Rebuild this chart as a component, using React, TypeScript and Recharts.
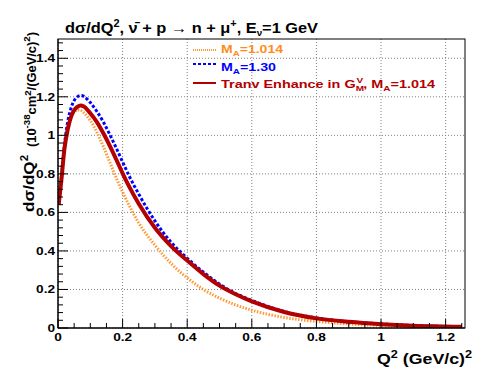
import React from "react";
import { LineChart, Line, XAxis, YAxis, CartesianGrid } from "recharts";

// Q^2 in (GeV/c)^2
const q2 = [0.002, 0.01, 0.02, 0.03, 0.04, 0.05, 0.06, 0.07, 0.08, 0.1, 0.12, 0.14, 0.16, 0.18, 0.2, 0.22, 0.25, 0.3, 0.35, 0.4, 0.45, 0.5, 0.55, 0.6, 0.7, 0.8, 0.9, 1.0, 1.1, 1.2, 1.25];

// dsigma/dQ^2 in 10^-38 cm^2/(GeV/c)^2
const ma1014 = [0.64, 0.77, 0.94, 1.04, 1.095, 1.12, 1.132, 1.13, 1.117, 1.077, 1.017, 0.943, 0.862, 0.78, 0.705, 0.637, 0.545, 0.43, 0.335, 0.26, 0.2, 0.155, 0.12, 0.092, 0.055, 0.034, 0.021, 0.013, 0.008, 0.005, 0.004];
const ma130 = [0.64, 0.77, 0.95, 1.07, 1.14, 1.18, 1.2, 1.207, 1.202, 1.17, 1.125, 1.07, 1.005, 0.935, 0.862, 0.79, 0.695, 0.556, 0.445, 0.362, 0.29, 0.228, 0.179, 0.143, 0.086, 0.052, 0.033, 0.021, 0.013, 0.008, 0.006];
const tranv = [0.64, 0.76, 0.93, 1.03, 1.095, 1.13, 1.148, 1.155, 1.15, 1.115, 1.07, 1.012, 0.947, 0.876, 0.803, 0.735, 0.645, 0.52, 0.425, 0.35, 0.28, 0.22, 0.175, 0.138, 0.083, 0.05, 0.032, 0.02, 0.012, 0.008, 0.006];

const xTicks = [0, 0.05, 0.1, 0.15, 0.2, 0.25, 0.3, 0.35, 0.4, 0.45, 0.5, 0.55, 0.6, 0.65, 0.7, 0.75, 0.8, 0.85, 0.9, 0.95, 1.0, 1.05, 1.1, 1.15, 1.2, 1.25];
const yTicks = [0, 0.04, 0.08, 0.12, 0.16, 0.2, 0.24, 0.28, 0.32, 0.36, 0.4, 0.44, 0.48, 0.52, 0.56, 0.6, 0.64, 0.68, 0.72, 0.76, 0.8, 0.84, 0.88, 0.92, 0.96, 1.0, 1.04, 1.08, 1.12, 1.16, 1.2, 1.24, 1.28, 1.32, 1.36, 1.4, 1.44, 1.48];
const xMajor = [0, 0.2, 0.4, 0.6, 0.8, 1.0, 1.2];
const yMajor = [0, 0.2, 0.4, 0.6, 0.8, 1.0, 1.2, 1.4];

const data = q2.map((q, i) => ({ q, a: ma1014[i], b: ma130[i], c: tranv[i] }));

const W = 485;
const H = 388;
const M = { top: 39, right: 20, left: 58, bottom: 60 };
const FONT = "'Liberation Sans', Arial, Helvetica, sans-serif";
const ORANGE = "#ff9933";
const BLUE = "#0000ff";
const RED = "#b30000";

const isMajor = (v: number) => Math.abs(v * 5 - Math.round(v * 5)) < 1e-6;
const fmt = (v: number) => String(Math.round(v * 10) / 10);

function XTick(props: any) {
  const { x, y, payload } = props;
  const major = isMajor(payload.value);
  return (
    <g>
      <line x1={x} x2={x} y1={y} y2={y - (major ? 9 : 5)} stroke="#000" />
      {major && (
        <text transform={`translate(${x},${y + 13}) scale(1.3,1)`} textAnchor="middle"
          fontSize={10.5} fontWeight="bold" fontFamily={FONT} fill="#000">
          {fmt(payload.value)}
        </text>
      )}
    </g>
  );
}

function YTick(props: any) {
  const { x, y, payload } = props;
  const major = isMajor(payload.value);
  return (
    <g>
      <line x1={x} x2={x + (major ? 10 : 5)} y1={y} y2={y} stroke="#000" />
      {major && (
        <text transform={`translate(${x - 3},${y + 4}) scale(1.3,1)`} textAnchor="end"
          fontSize={10.5} fontWeight="bold" fontFamily={FONT} fill="#000">
          {fmt(payload.value)}
        </text>
      )}
    </g>
  );
}

export default function App() {
  const txt = { fontFamily: FONT, fontWeight: "bold" as const, lengthAdjust: "spacingAndGlyphs" };
  return (
    <div style={{ position: "absolute", left: 0, top: 0, width: W, height: H, background: "#fff" }}>
      <LineChart width={W} height={H} data={data}
        margin={{ top: M.top, right: M.right, left: 0, bottom: 0 }}>
        <CartesianGrid horizontalValues={yMajor} verticalValues={xMajor}
          stroke="#808080" strokeDasharray="1 2" />
        <XAxis dataKey="q" type="number" domain={[0, 1.26]} ticks={xTicks}
          allowDataOverflow height={M.bottom} tickSize={0} tickMargin={0}
          axisLine={{ stroke: "#000" }} tickLine={false} tick={<XTick />} interval={0} />
        <YAxis type="number" domain={[0, 1.5]} ticks={yTicks} allowDataOverflow
          width={M.left} tickSize={0} tickMargin={0}
          axisLine={{ stroke: "#000" }} tickLine={false} tick={<YTick />} interval={0} />
        <Line dataKey="a" type="monotone" stroke={ORANGE} strokeWidth={3}
          strokeDasharray="1.5 1.5" dot={false} isAnimationActive={false} />
        <Line dataKey="b" type="monotone" stroke={BLUE} strokeWidth={3}
          strokeDasharray="3 2" dot={false} isAnimationActive={false} />
        <Line dataKey="c" type="monotone" stroke={RED} strokeWidth={4}
          dot={false} isAnimationActive={false} />
      </LineChart>
      <svg width={W} height={H} style={{ position: "absolute", left: 0, top: 0, pointerEvents: "none" }}>
        <rect x={M.left} y={M.top} width={W - M.left - M.right} height={H - M.top - M.bottom}
          fill="none" stroke="#000" />
        {/* title */}
        <text x={65} y={33} fontSize={15} textLength={253} {...txt} fill="#000">
          dσ/dQ<tspan dy={-6} fontSize={10}>2</tspan>
          <tspan dy={6}>, ν̄ + p → n + μ</tspan>
          <tspan dy={-6} fontSize={10}>+</tspan>
          <tspan dy={6}>, E</tspan>
          <tspan dy={3} fontSize={9}>ν</tspan>
          <tspan dy={-3}>=1 GeV</tspan>
        </text>
        {/* x title */}
        <text x={377} y={364} fontSize={14} textLength={95} {...txt} fill="#000">
          Q<tspan dy={-6} fontSize={10}>2</tspan>
          <tspan dy={6}> (GeV/c)</tspan>
          <tspan dy={-6} fontSize={10}>2</tspan>
        </text>
        {/* y title */}
        <text transform="translate(34,212) rotate(-90)" fontSize={15} textLength={57} {...txt} fill="#000">
          dσ/dQ<tspan dy={-6} fontSize={10}>2</tspan>
        </text>
        <text transform="translate(36,147) rotate(-90)" fontSize={12} textLength={115} {...txt} fill="#000">
          (10<tspan dy={-6} fontSize={9}>-38</tspan>
          <tspan dy={6}>cm</tspan>
          <tspan dy={-5} fontSize={9}>2</tspan>
          <tspan dy={5}>/(GeV/c)</tspan>
          <tspan dy={-6} fontSize={9}>2</tspan>
          <tspan dy={6}>)</tspan>
        </text>
        {/* legend */}
        <line x1={193} x2={216} y1={50} y2={50} stroke={ORANGE} strokeWidth={2} strokeDasharray="1 1" />
        <text x={221} y={53} fontSize={11.5} textLength={62} {...txt} fill="#ff8c1a">
          M<tspan dy={3} fontSize={8}>A</tspan>
          <tspan dy={-3}>=1.014</tspan>
        </text>
        <line x1={193} x2={216} y1={64} y2={64} stroke={BLUE} strokeWidth={2} strokeDasharray="3 2" />
        <text x={221} y={71} fontSize={11.5} textLength={55} {...txt} fill={BLUE}>
          M<tspan dy={3} fontSize={8}>A</tspan>
          <tspan dy={-3}>=1.30</tspan>
        </text>
        <line x1={193} x2={216} y1={83} y2={83} stroke={RED} strokeWidth={2} />
        <text x={221} y={88} fontSize={11.5} textLength={214} {...txt} fill={RED}>
          Tranv Enhance in G<tspan dy={3} fontSize={8}>M</tspan>
          <tspan dx={-6} dy={-8} fontSize={8}>V</tspan>
          <tspan dy={5}>, M</tspan>
          <tspan dy={3} fontSize={8}>A</tspan>
          <tspan dy={-3}>=1.014</tspan>
        </text>
      </svg>
    </div>
  );
}
